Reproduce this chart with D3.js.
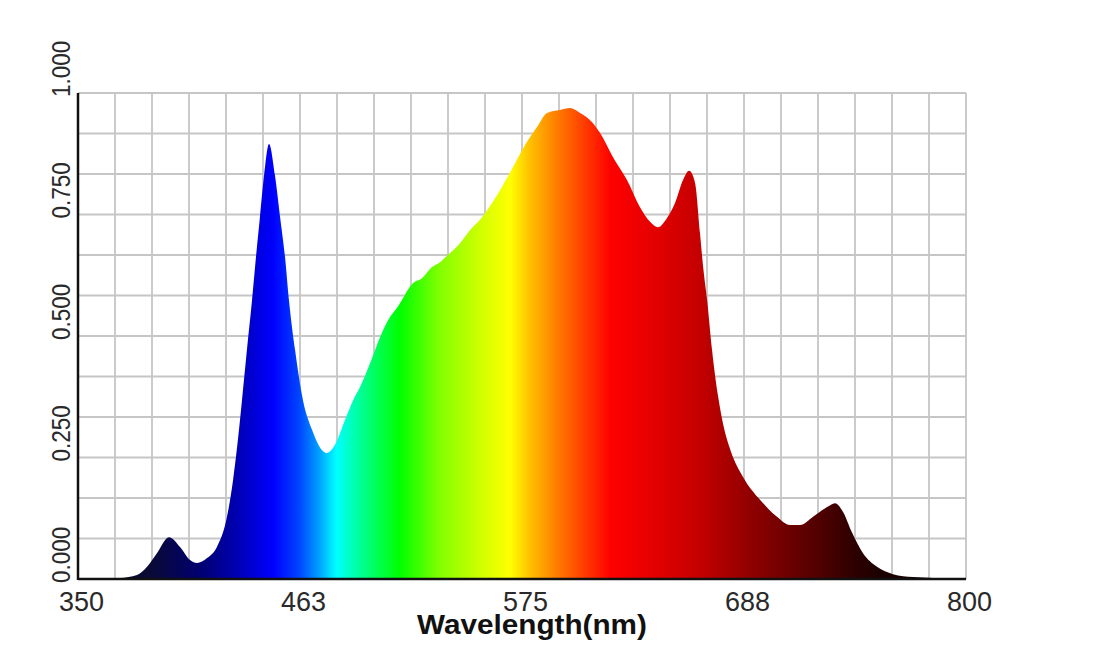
<!DOCTYPE html>
<html>
<head>
<meta charset="utf-8">
<script src="https://cdn.jsdelivr.net/npm/d3@7/dist/d3.min.js"></script>
<style>
  html, body { margin: 0; padding: 0; background: #ffffff; }
  svg { display: block; }
</style>
</head>
<body>
<svg id="chart" width="1101" height="672"></svg>
<script>
// ---- data ----
const wavelengths = [350, 371.3, 379.9, 385.0, 390.0, 396.1, 401.7, 406.8, 410.3, 415.4, 420.4, 425.5, 428.6, 432.1, 433.1, 435.6, 438.2, 440.2, 442.2, 444.3, 446.8, 449.8, 452.4, 454.9, 456.9, 460.0, 464.0, 468.6, 473.7, 476.2, 480.2, 485.3, 489.4, 492.9, 498.0, 503.1, 508.1, 511.7, 519.8, 524.3, 529.4, 533.5, 537.5, 543.6, 548.7, 553.7, 562.4, 570.5, 576.5, 582.6, 587.7, 594.3, 599.3, 604.4, 610.5, 614.5, 621.1, 628.2, 634.8, 639.9, 643.9, 648.5, 652.6, 656.6, 659.7, 662.7, 665.2, 666.8, 668.8, 671.3, 674.4, 677.4, 680.9, 687.0, 695.6, 704.2, 710.8, 715.9, 722.5, 729.6, 733.6, 737.7, 742.3, 747.8, 754.9, 763.0, 773.2, 783.3, 800];
const intensity = [0, 0.002, 0.008, 0.025, 0.053, 0.086, 0.066, 0.039, 0.033, 0.043, 0.066, 0.128, 0.204, 0.327, 0.368, 0.471, 0.574, 0.663, 0.745, 0.831, 0.895, 0.831, 0.745, 0.663, 0.574, 0.471, 0.368, 0.307, 0.265, 0.259, 0.276, 0.327, 0.368, 0.395, 0.444, 0.498, 0.539, 0.558, 0.609, 0.619, 0.642, 0.652, 0.667, 0.691, 0.718, 0.739, 0.790, 0.848, 0.893, 0.930, 0.959, 0.965, 0.969, 0.959, 0.940, 0.918, 0.868, 0.821, 0.765, 0.735, 0.724, 0.743, 0.774, 0.821, 0.840, 0.815, 0.712, 0.642, 0.574, 0.471, 0.375, 0.310, 0.262, 0.210, 0.163, 0.128, 0.111, 0.111, 0.128, 0.148, 0.156, 0.138, 0.095, 0.053, 0.025, 0.010, 0.004, 0.002, 0];

const xTickValues = [350, 462.5, 575, 687.5, 800];
const xTickLabels = ["350", "463", "575", "688", "800"];
const yTickValues = [0, 0.25, 0.5, 0.75, 1.0];
const yTickLabels = ["0.000", "0.250", "0.500", "0.750", "1.000"];
const xTitle = "Wavelength(nm)";

// spectrum colour stops: wavelength (nm) and colour
const stopNm = [350, 386, 412, 432, 449, 462, 471, 481, 490, 500, 513, 533, 554, 569, 579, 592, 604, 620, 645, 665, 690, 716, 741, 756, 800];
const stopColor = ["#05051a", "#0a0a35", "#000070", "#0000b8", "#0000ff", "#0045ff", "#0095ff", "#00ffff", "#00ffb0", "#00ff60", "#00ff00", "#80ff00", "#d0ff00", "#ffff00", "#ffc000", "#ff8000", "#ff4800", "#ff0000", "#e00000", "#c40000", "#920000", "#620000", "#320000", "#1c0000", "#100000"];

// ---- layout ----
const plot = { left: 78, right: 966, top: 93, bottom: 579 };
const svg = d3.select("#chart");

const x = d3.scaleLinear().domain([350, 800]).range([plot.left, plot.right]);
const y = d3.scaleLinear().domain([0, 1]).range([plot.bottom, plot.top]);

// gradient
const defs = svg.append("defs");
const grad = defs.append("linearGradient")
  .attr("id", "spec")
  .attr("gradientUnits", "userSpaceOnUse")
  .attr("x1", x(350)).attr("x2", x(800))
  .attr("y1", 0).attr("y2", 0);
stopNm.forEach((nm, i) => {
  grad.append("stop")
    .attr("offset", (nm - 350) / 450)
    .attr("stop-color", stopColor[i]);
});

// grid
const gridColor = "#c6c6c6";
const vGrid = d3.range(25).map(i => 350 + i * 18.75);
const hGrid = d3.range(13).map(i => i / 12);
const grid = svg.append("g");
grid.selectAll("line.v").data(vGrid).join("line")
  .attr("x1", d => x(d)).attr("x2", d => x(d))
  .attr("y1", plot.top).attr("y2", plot.bottom)
  .attr("stroke", gridColor).attr("stroke-width", 1.8);
grid.selectAll("line.h").data(hGrid).join("line")
  .attr("x1", plot.left).attr("x2", plot.right)
  .attr("y1", d => y(d)).attr("y2", d => y(d))
  .attr("stroke", gridColor).attr("stroke-width", 1.8);

// spectrum area
const data = wavelengths.map((w, i) => ({ w, v: intensity[i] }));
const area = d3.area()
  .x(d => x(d.w))
  .y0(y(0))
  .y1(d => y(d.v))
  .curve(d3.curveMonotoneX);
svg.append("path")
  .datum(data)
  .attr("d", area)
  .attr("fill", "url(#spec)");

// axis lines (left and bottom, black)
svg.append("line")
  .attr("x1", plot.left).attr("x2", plot.left)
  .attr("y1", plot.top).attr("y2", plot.bottom + 1)
  .attr("stroke", "#111").attr("stroke-width", 2.5);
svg.append("line")
  .attr("x1", plot.left).attr("x2", plot.right)
  .attr("y1", plot.bottom).attr("y2", plot.bottom)
  .attr("stroke", "#111").attr("stroke-width", 2.5);

// x axis labels
const xAxis = d3.axisBottom(x)
  .tickValues(xTickValues)
  .tickFormat((d, i) => xTickLabels[i])
  .tickSize(0)
  .tickPadding(0);
const gx = svg.append("g")
  .attr("transform", `translate(0,${plot.bottom})`)
  .call(xAxis);
gx.select(".domain").remove();
gx.selectAll("text")
  .attr("dy", null)
  .attr("y", 32)
  .attr("font-family", "'Liberation Sans', Arial, sans-serif")
  .attr("font-size", 27)
  .attr("fill", "#2a2a2a")
  .attr("transform", "translate(3,0)");

// y axis labels (rotated)
const gy = svg.append("g");
gy.selectAll("text").data(yTickValues).join("text")
  .attr("transform", d => `translate(70,${y(d) + 4}) rotate(-90) scale(0.9,1)`)
  .attr("text-anchor", "start")
  .attr("font-family", "'Liberation Sans', Arial, sans-serif")
  .attr("font-size", 25)
  .attr("fill", "#2a2a2a")
  .text((d, i) => yTickLabels[i]);

// x title
svg.append("text")
  .attr("transform", "translate(532,634) scale(1.1,1)")
  .attr("text-anchor", "middle")
  .attr("font-family", "'Liberation Sans', Arial, sans-serif")
  .attr("font-weight", "bold")
  .attr("font-size", 27)
  .attr("fill", "#111")
  .text(xTitle);
</script>
</body>
</html>
